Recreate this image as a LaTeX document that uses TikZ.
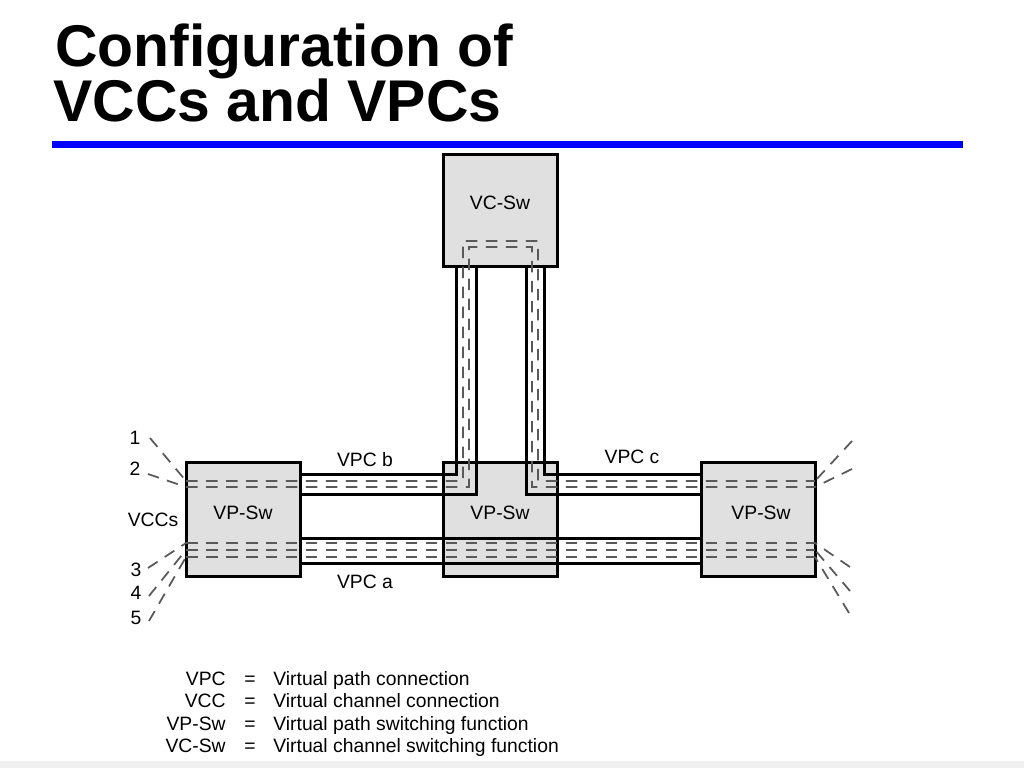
\documentclass[tikz,border=0pt]{standalone}
\usepackage{fontspec}
\setmainfont{Liberation Sans}

\begin{document}
\begin{tikzpicture}[
  swbox/.style={draw, line width=0.06cm, fill=black!12, minimum width=2.28cm, minimum height=2.28cm, outer sep=0pt, inner sep=0pt},
  tube/.style={line width=0.06cm},
  vcc/.style={black!65, line width=0.035cm, dash pattern=on 0.23cm off 0.17cm},
  lbl/.style={font=\fontsize{11}{13}\selectfont, inner sep=0pt},
  headline/.style={anchor=base west, inner sep=0pt, font=\fontsize{33.5}{40}\selectfont\bfseries}
]
\useasboundingbox (0,0) rectangle (20.48,-15.36);
\fill[black!6] (0,-15.22) rectangle (20.48,-15.36);

% Title
\node[headline] (title1) at (1.10,-1.34) {Configuration of};
\node[headline] (title2) at (1.06,-2.44) {VCCs and VPCs};
\draw[blue, line width=0.14cm] (1.04,-2.89) -- (19.26,-2.89);

% Switching functions
\node[swbox, minimum height=2.24cm] (vcsw) at (10.00,-4.22) {};
\node[swbox] (vpl) at (4.86,-10.38) {};
\node[swbox] (vpm) at (10.00,-10.38) {};
\node[swbox] (vpr) at (15.16,-10.38) {};
\node[lbl] (tvcsw) at (10.00,-4.06) {VC-Sw};
\node[lbl] (tvpl) at (4.86,-10.26) {VP-Sw};
\node[lbl] (tvpm) at (10.00,-10.26) {VP-Sw};
\node[lbl] (tvpr) at (15.22,-10.26) {VP-Sw};

% VPC b and VPC c
\draw[tube] ([yshift=9mm]vpl.east) -| ([xshift=-8.8mm]vcsw.south);
\draw[tube] ([yshift=5mm]vpl.east) -| ([xshift=-4.8mm]vcsw.south);
\draw[tube] ([yshift=9mm]vpr.west) -| ([xshift=8.8mm]vcsw.south);
\draw[tube] ([yshift=5mm]vpr.west) -| ([xshift=5.2mm]vcsw.south);

% VPC a
\draw[tube] ([yshift=-3.8mm]vpl.east) -- ([yshift=-3.8mm]vpr.west);
\draw[tube] ([yshift=-8.8mm]vpl.east) -- ([yshift=-8.8mm]vpr.west);

% VCCs 1 and 2 via VC-Sw
\draw[vcc] ([yshift=7.6mm]vpl.west) -| ([xshift=-7.4mm,yshift=5.2mm]vcsw.south)
  -| ([xshift=7.6mm,yshift=-3.8mm]vpm.north) -- ([yshift=7.6mm]vpr.east);
\draw[vcc] ([yshift=6.4mm]vpl.west) -| ([xshift=-6.2mm,yshift=4mm]vcsw.south)
  -| ([xshift=6.4mm,yshift=-5mm]vpm.north) -- ([yshift=6.4mm]vpr.east);

% VCCs 3, 4, 5 in VPC a
\foreach \dy in {-4.8,-6.2,-7.6} {
    \draw[vcc] ([yshift=\dy mm]vpl.west) -- ([yshift=\dy mm]vpr.east);
}

% free ends of the VCCs
\coordinate (v1) at (3.00,-8.76);
\coordinate (v2) at (2.96,-9.48);
\coordinate (v3) at (2.96,-11.36);
\coordinate (v4) at (2.98,-11.92);
\coordinate (v5) at (2.98,-12.42);
\coordinate (w1) at (17.04,-8.82);
\coordinate (w2) at (17.04,-9.38);
\coordinate (w3) at (17.00,-11.34);
\coordinate (w4) at (17.00,-11.82);
\coordinate (w5) at (16.98,-12.26);
\foreach \i/\dy in {1/7.6, 2/6.4, 3/-4.8, 4/-6.2, 5/-7.6} {
    \draw[vcc] (v\i) -- ([yshift=\dy mm]vpl.west);
    \draw[vcc] (w\i) -- ([yshift=\dy mm]vpr.east);
}

% Labels
\node[lbl] (n1) at (2.70,-8.76) {1};
\node[lbl] (n2) at (2.70,-9.38) {2};
\node[lbl] (vccs) at (3.06,-10.40) {VCCs};
\node[lbl] (n3) at (2.72,-11.40) {3};
\node[lbl] (n4) at (2.72,-11.86) {4};
\node[lbl] (n5) at (2.72,-12.36) {5};
\node[lbl] (vpcb) at (7.30,-9.20) {VPC b};
\node[lbl] (vpcc) at (12.64,-9.14) {VPC c};
\node[lbl] (vpca) at (7.30,-11.64) {VPC a};

% Legend
\foreach \i/\abbr/\txt in {1/VPC/Virtual path connection, 2/VCC/Virtual channel connection,
    3/VP-Sw/Virtual path switching function, 4/VC-Sw/Virtual channel switching function} {
    \node[lbl, anchor=base east] (key\i) at (4.52,{-13.70-0.453*(\i-1)}) {\abbr};
    \node[lbl, anchor=base] (eq\i) at (5.00,{-13.70-0.453*(\i-1)}) {=};
    \node[lbl, anchor=base west] (def\i) at (5.46,{-13.70-0.453*(\i-1)}) {\txt};
}

\end{tikzpicture}
\end{document}
